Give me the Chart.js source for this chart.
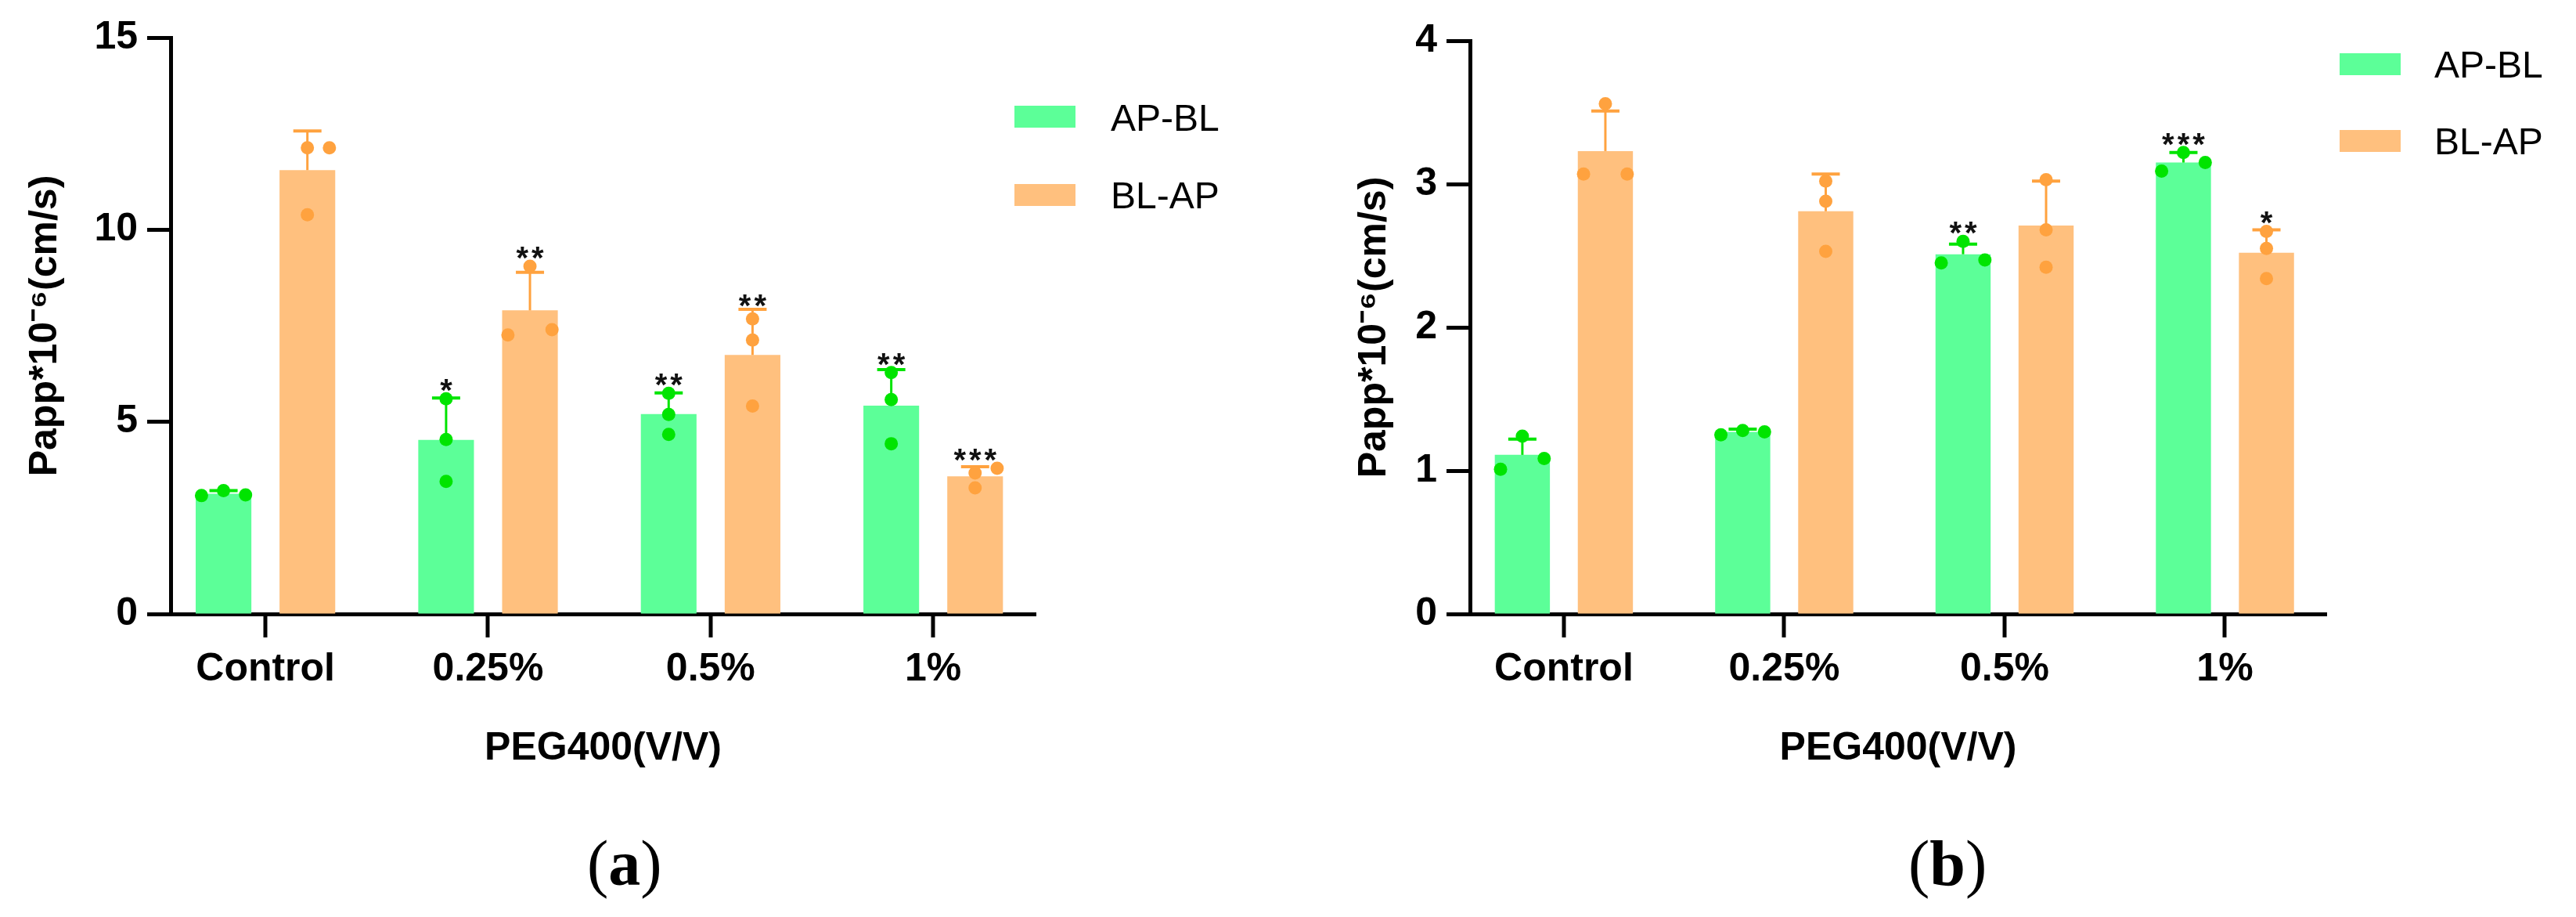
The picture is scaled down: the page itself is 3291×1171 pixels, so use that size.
<!DOCTYPE html>
<html>
<head>
<meta charset="utf-8">
<script src="https://cdn.jsdelivr.net/npm/chart.js@4.4.0/dist/chart.umd.min.js"></script>
<style>
html, body { margin: 0; padding: 0; background: #fff; }
body { width: 3291px; height: 1171px; position: relative; overflow: hidden; font-family: 'Liberation Sans', Arial, sans-serif; }
.wrap { position: absolute; top: 0; height: 1000px; }
.lg-box { position: absolute; width: 78px; height: 28px; }
.lg-txt { position: absolute; font-size: 48px; line-height: 48px; color: #000; white-space: nowrap; }
.panel { position: absolute; font-family: 'Liberation Serif', 'Times New Roman', serif; font-size: 82px; line-height: 82px; color: #000; white-space: nowrap; }
</style>
</head>
<body>
<div class="wrap" id="wa" style="left:0px;width:1380px;"><canvas id="ca"></canvas></div>
<div class="wrap" id="wb" style="left:1700px;width:1591px;"><canvas id="cb"></canvas></div>
<div id="legA"></div>
<div id="legB"></div>
<div class="panel" style="left:750px;top:1062px;">(<b>a</b>)</div>
<div class="panel" style="left:2438px;top:1062px;">(<b>b</b>)</div>
<script>
// ---------------- DATA ----------------
const categories = ['Control', '0.25%', '0.5%', '1%'];
const seriesNames = ['AP-BL', 'BL-AP'];
const xTitle = 'PEG400(V/V)';
const yTitle = 'Papp*10\u207B\u2076(cm/s)';

// Panel (a)
const aYTicks = [0, 5, 10, 15];
const aApblMean = [3.13, 4.53, 5.20, 5.42];
const aApblSD = [0.08, 1.09, 0.55, 0.94];
const aApblPoints = [[3.08, 3.21, 3.10], [5.60, 4.54, 3.45], [5.74, 5.19, 4.67], [6.28, 5.58, 4.43]];
const aApblStars = ['', '*', '**', '**'];
const aBlapMean = [11.55, 7.90, 6.74, 3.58];
const aBlapSD = [1.02, 0.99, 1.19, 0.25];
const aBlapPoints = [[12.13, 12.13, 10.39], [9.05, 7.26, 7.40], [7.68, 7.13, 5.41], [3.79, 3.67, 3.28]];
const aBlapStars = ['', '**', '**', '***'];

// Panel (b)
const bYTicks = [0, 1, 2, 3, 4];
const bApblMean = [1.11, 1.27, 2.51, 3.15];
const bApblSD = [0.11, 0.02, 0.07, 0.07];
const bApblPoints = [[1.24, 1.085, 1.01], [1.25, 1.28, 1.27], [2.60, 2.45, 2.47], [3.22, 3.09, 3.15]];
const bApblStars = ['', '', '**', '***'];
const bBlapMean = [3.23, 2.81, 2.71, 2.52];
const bBlapSD = [0.28, 0.26, 0.31, 0.16];
const bBlapPoints = [[3.56, 3.07, 3.07], [3.02, 2.88, 2.53], [3.03, 2.68, 2.42], [2.67, 2.55, 2.34]];
const bBlapStars = ['', '', '', '*'];

// ---------------- LAYOUT / STYLE ----------------
// scatter-dot jitter lanes (which side of the bar centre each replicate sits)
const aApblLanes = [[-1, 0, 1], [0, 0, 0], [0, 0, 0], [0, 0, 0]];
const aBlapLanes = [[0, 1, 0], [0, -1, 1], [0, 0, 0], [1, 0, 0]];
const bApblLanes = [[0, 1, -1], [-1, 0, 1], [0, -1, 1], [0, -1, 1]];
const bBlapLanes = [[0, -1, 1], [0, 0, 0], [0, 0, 0], [0, 0, 0]];

const GREEN_BAR = '#5CFF98';
const ORANGE_BAR = '#FFC07E';
const GREEN_PT = '#00E400';
const ORANGE_PT = '#FFA23F';
const FONT = "'Liberation Sans', Arial, sans-serif";
const CAT_PCT = 0.7535;
const BAR_PCT = 0.664;
const BAR_OFFSET = CAT_PCT / 4;
const LANE_STEP = 0.099;
const X_MIN = -0.426, X_MAX = 3.46;
const TICK_LEN = 30, AXIS_W = 5;

Chart.defaults.font.family = FONT;
Chart.defaults.color = '#000';

const errPlugin = {
  id: 'errbars',
  afterDatasetDraw(chart, args) {
    const ds = chart.data.datasets[args.index];
    if (!ds.errors) return;
    const ys = chart.scales.y, ctx = chart.ctx;
    ctx.save();
    ctx.strokeStyle = ds.errColor;
    args.meta.data.forEach((bar, i) => {
      const top = ys.getPixelForValue(ds.data[i].y + ds.errors[i]);
      ctx.lineWidth = 3;
      ctx.beginPath(); ctx.moveTo(bar.x, bar.y); ctx.lineTo(bar.x, top); ctx.stroke();
      ctx.lineWidth = 4;
      ctx.beginPath(); ctx.moveTo(bar.x - 18, top); ctx.lineTo(bar.x + 18, top); ctx.stroke();
    });
    ctx.restore();
  },
  afterDatasetsDraw(chart) {
    const ys = chart.scales.y, ctx = chart.ctx;
    ctx.save();
    ctx.font = 'bold 40px ' + FONT;
    ctx.fillStyle = '#111';
    ctx.textAlign = 'center';
    ctx.textBaseline = 'alphabetic';
    ctx.letterSpacing = '4px';
    chart.data.datasets.forEach((ds, di) => {
      if (!ds.stars) return;
      const meta = chart.getDatasetMeta(di);
      meta.data.forEach((bar, i) => {
        const s = ds.stars[i];
        if (!s) return;
        const cap = ys.getPixelForValue(ds.data[i].y + ds.errors[i]) - 2;
        const pt = ys.getPixelForValue(Math.max(...ds.points[i])) - 8;
        const top = Math.min(cap, pt);
        ctx.fillText(s, bar.x + 2, top + 11);
      });
    });
    ctx.restore();
  },
  afterDraw(chart) {
    // category tick marks: centred on each bar group (midpoint of the two bars)
    const ctx = chart.ctx, base = chart.chartArea.bottom;
    const barMetas = chart.data.datasets.map((ds, di) => ds.type === 'bar' ? chart.getDatasetMeta(di) : null).filter(Boolean);
    if (barMetas.length < 2) return;
    ctx.save();
    ctx.strokeStyle = '#000';
    ctx.lineWidth = AXIS_W;
    categories.forEach((_, i) => {
      const a = barMetas[0].data[i], b = barMetas[1].data[i];
      if (!a || !b) return;
      const px = Math.round((a.x + b.x) / 2);
      ctx.beginPath(); ctx.moveTo(px, base); ctx.lineTo(px, base + TICK_LEN); ctx.stroke();
    });
    ctx.restore();
  }
};

function buildChart(canvasId, c) {
  const xy = arr => arr.map((v, i) => ({ x: i, y: v }));
  const pts = (P, L, side) => {
    const out = [];
    P.forEach((g, i) => g.forEach((v, k) => out.push({ x: i + side * BAR_OFFSET + L[i][k] * LANE_STEP, y: v })));
    return out;
  };
  return new Chart(document.getElementById(canvasId), {
    type: 'scatter',
    data: {
      datasets: [
        { type: 'scatter', label: seriesNames[0] + ' points', data: pts(c.apPts, c.apLanes, -1),
          backgroundColor: GREEN_PT, borderWidth: 0, pointRadius: 8.5, order: 0 },
        { type: 'scatter', label: seriesNames[1] + ' points', data: pts(c.blPts, c.blLanes, 1),
          backgroundColor: ORANGE_PT, borderWidth: 0, pointRadius: 8.5, order: 0 },
        { type: 'bar', label: seriesNames[0], data: xy(c.apMean), backgroundColor: GREEN_BAR,
          categoryPercentage: CAT_PCT, barPercentage: BAR_PCT, order: 1,
          errors: c.apSD, errColor: GREEN_PT, stars: c.apStars, points: c.apPts },
        { type: 'bar', label: seriesNames[1], data: xy(c.blMean), backgroundColor: ORANGE_BAR,
          categoryPercentage: CAT_PCT, barPercentage: BAR_PCT, order: 1,
          errors: c.blSD, errColor: ORANGE_PT, stars: c.blStars, points: c.blPts }
      ]
    },
    options: {
      responsive: true,
      maintainAspectRatio: false,
      devicePixelRatio: 1,
      animation: false,
      layout: { padding: { left: 0, top: c.topPad, right: c.rightPad, bottom: 0 } },
      plugins: { legend: { display: false }, tooltip: { enabled: false } },
      scales: {
        x: {
          type: 'linear', min: X_MIN, max: X_MAX, offset: false,
          afterBuildTicks: axis => { axis.ticks = categories.map((_, i) => ({ value: i })); },
          afterFit: axis => { axis.height = 216; },
          ticks: { callback: v => categories[Math.round(v)], font: { size: 50, weight: 'bold' }, padding: 11, color: '#000', maxRotation: 0, autoSkip: false },
          grid: { offset: false, drawOnChartArea: false, drawTicks: true, tickLength: TICK_LEN, tickWidth: 0, tickColor: 'rgba(0,0,0,0)', color: 'rgba(0,0,0,0)' },
          border: { display: true, color: '#000', width: AXIS_W },
          title: { display: true, text: xTitle, font: { size: 50, weight: 'bold' }, color: '#000', padding: { top: 0, bottom: 14 } }
        },
        y: {
          type: 'linear', min: 0, max: c.yTicks[c.yTicks.length - 1],
          afterBuildTicks: axis => { axis.ticks = c.yTicks.map(v => ({ value: v })); },
          afterFit: axis => { axis.width = c.yAxisWidth; },
          ticks: { font: { size: 50, weight: 'bold' }, padding: 12, color: '#000' },
          grid: { offset: false, drawOnChartArea: false, drawTicks: true, tickLength: TICK_LEN, tickWidth: AXIS_W, tickColor: '#000' },
          border: { display: true, color: '#000', width: AXIS_W },
          title: { display: true, text: yTitle, font: { size: 50, weight: 'bold' }, color: '#000', padding: { top: c.yTitlePad, bottom: 0 } }
        }
      }
    },
    plugins: [errPlugin]
  });
}

buildChart('ca', {
  apMean: aApblMean, apSD: aApblSD, apPts: aApblPoints, apLanes: aApblLanes, apStars: aApblStars,
  blMean: aBlapMean, blSD: aBlapSD, blPts: aBlapPoints, blLanes: aBlapLanes, blStars: aBlapStars,
  yTicks: aYTicks, yAxisWidth: 218, yTitlePad: 28, topPad: 48, rightPad: 57
});
buildChart('cb', {
  apMean: bApblMean, apSD: bApblSD, apPts: bApblPoints, apLanes: bApblLanes, apStars: bApblStars,
  blMean: bBlapMean, blSD: bBlapSD, blPts: bBlapPoints, blLanes: bBlapLanes, blStars: bBlapStars,
  yTicks: bYTicks, yAxisWidth: 178, yTitlePad: 26, topPad: 52, rightPad: 319
});

// HTML legends
function legend(id, left, boxTops, textLeft, textTops) {
  const el = document.getElementById(id);
  const cols = [GREEN_BAR, ORANGE_BAR];
  seriesNames.forEach((n, i) => {
    const b = document.createElement('div');
    b.className = 'lg-box';
    b.style.left = left + 'px'; b.style.top = boxTops[i] + 'px'; b.style.background = cols[i];
    el.appendChild(b);
    const t = document.createElement('div');
    t.className = 'lg-txt';
    t.style.left = textLeft + 'px'; t.style.top = textTops[i] + 'px';
    t.textContent = n;
    el.appendChild(t);
  });
}
legend('legA', 1296, [135, 235], 1419, [127, 226]);
legend('legB', 2989, [68, 166], 3110, [59, 157]);
</script>
</body>
</html>
